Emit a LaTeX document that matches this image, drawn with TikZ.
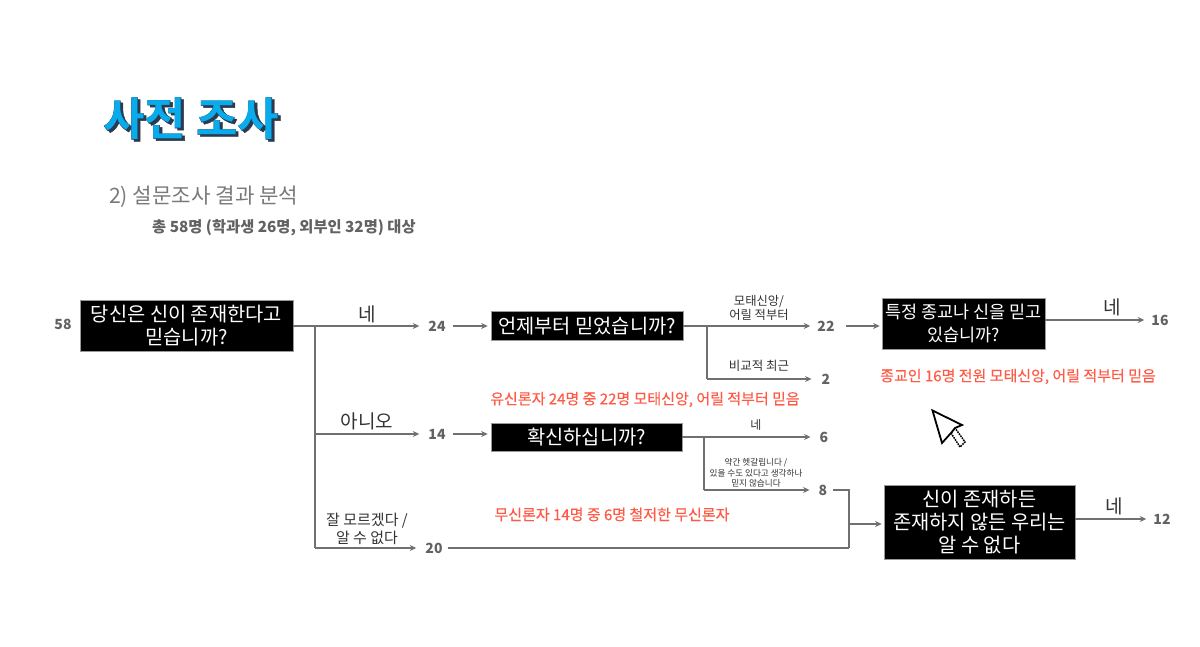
\documentclass[tikz,border=0pt]{standalone}
\usepackage{fontspec}
\setmainfont{Noto Sans CJK KR}
\newfontfamily\titlefont[FakeBold=1.0]{Noto Sans CJK KR Bold}
\newfontfamily\titlethin{Noto Sans CJK KR Bold}
\newfontfamily\semib[FakeBold=0.25]{Noto Sans CJK KR}
\usetikzlibrary{arrows.meta,calc}
\definecolor{ln}{HTML}{707070}
\definecolor{tx}{HTML}{626262}
\definecolor{rd}{HTML}{FF5A45}
\definecolor{cy}{HTML}{08ABEC}
\definecolor{sh}{HTML}{2B3A4E}
\newcommand{\fz}[2]{\fontsize{#1}{#2}\selectfont}
\tikzset{
 x=1pt,y=-1pt,
 qbox/.style={fill=black,draw=black!40!white,line width=.6pt,text=white,align=center,font=\fz{19.8}{23},inner sep=0pt},
 num/.style={text=tx,font=\fz{14}{14}\bfseries,inner sep=0pt},
 lab/.style={text=black!80,align=center,inner sep=0pt},
 red/.style={text=rd,font=\semib\fz{15}{16},inner sep=0pt},
 ar/.style={draw=ln,line width=1.9pt,-{Stealth[length=6.5pt,width=6pt]}},
 li/.style={draw=ln,line width=1.9pt},
}
\begin{document}
\begin{tikzpicture}
\useasboundingbox (0,0) rectangle (1200,647);
\fill[white] (0,0) rectangle (1200,647);
% title
\node[text=sh,font=\titlefont\fz{45}{48},inner sep=0pt] (tshadow) at (193.5,120.5) {사전 조사};
\node[text=sh,font=\titlefont\fz{45}{48},inner sep=0pt] (toutline) at (191,118.5) {사전 조사};
\node[text=cy,font=\titlethin\fz{45}{48},inner sep=0pt] (title) at (191,118.5) {사전 조사};
\node[text=tx!85,font=\fz{21.2}{23},anchor=west,inner sep=0pt] (sub) at (109,197) {2) 설문조사 결과 분석};
\node[text=tx,font=\fz{15.3}{17}\bfseries,anchor=west,inner sep=0pt] (sub2) at (152,227.5) {총 58명 (학과생 26명, 외부인 32명) 대상};
% boxes
\node[qbox,minimum width=213pt,minimum height=51pt] (b1) at (186.5,326) {당신은 신이 존재한다고\\믿습니까?};
\node[qbox,minimum width=192pt,minimum height=29pt] (b2) at (587,326) {언제부터 믿었습니까?};
\node[qbox,minimum width=163pt,minimum height=51pt,font=\fz{17.5}{23}] (b3) at (963.5,323.5) {특정 종교나 신을 믿고\\있습니까?};
\node[qbox,minimum width=191pt,minimum height=28pt] (b4) at (586.5,437) {확신하십니까?};
\node[qbox,minimum width=191pt,minimum height=74pt] (b5) at (979.5,522) {신이 존재하든\\존재하지 않든 우리는\\알 수 없다};
% numbers
\node[num] (n58) at (63,324.5) {58};
\node[num] (n24) at (437,326) {24};
\node[num] (n14) at (437,434) {14};
\node[num] (n20) at (434,548) {20};
\node[num] (n22) at (826,326) {22};
\node[num] (n2) at (826,379) {2};
\node[num] (n6) at (824,437) {6};
\node[num] (n8) at (823,490) {8};
\node[num] (n16) at (1160,320) {16};
\node[num] (n12) at (1162,519) {12};
% labels
\node[lab,font=\fz{19}{20}] (l1) at (367,314) {네};
\node[lab,font=\fz{19}{20}] (l2) at (367,421) {아니오};
\node[lab,font=\fz{15}{18}] (l3) at (367,529) {잘 모르겠다 /\\알 수 없다};
\node[lab,font=\fz{12.3}{14.5}] (l4) at (759,308) {모태신앙/\\어릴 적부터};
\node[lab,font=\fz{12.5}{14}] (l5) at (759,366) {비교적 최근};
\node[lab,font=\fz{12}{14}] (l6) at (756,425) {네};
\node[lab,font=\fz{8.6}{10.5}] (l7) at (756,473) {약간 헷갈립니다 /\\있을 수도 있다고 생각하나\\믿지 않습니다};
\node[lab,font=\fz{19}{20}] (l8) at (1112,307) {네};
\node[lab,font=\fz{19}{20}] (l9) at (1114,506) {네};
% red
\node[red] (r1) at (645,399.5) {유신론자 24명 중 22명 모태신앙, 어릴 적부터 믿음};
\node[red] (r2) at (1018,376.5) {종교인 16명 전원 모태신앙, 어릴 적부터 믿음};
\node[red] (r3) at (612,514.5) {무신론자 14명 중 6명 철저한 무신론자};
% junctions
\coordinate (j1) at (315,326);
\coordinate (j2) at (707,326);
\coordinate (j3) at (704,437);
\coordinate (m1) at (849,490);
\coordinate (m2) at (849,548);
\coordinate (m3) at (849,524);
% connectors
\draw[ar,shorten >=9pt] (b1.east) -- (n24.west);
\draw[li] (j1) -- (j1 |- n20);
\draw[ar,shorten >=9pt] (j1 |- n14) -- (n14.west);
\draw[ar,shorten >=9pt] (j1 |- n20) -- (n20.west);
\draw[ar,shorten <=7pt,shorten >=3pt] (n24.east) -- (b2.west);
\draw[ar,shorten <=7pt,shorten >=3pt] (n14.east) -- (b4.west |- n14);
\draw[ar,shorten >=7pt] (b2.east) -- (n22.west);
\draw[li] (j2) -- (j2 |- n2);
\draw[ar,shorten >=10pt] (j2 |- n2) -- (n2.west);
\draw[ar,shorten <=11pt,shorten >=2pt] (n22.east) -- (b3.west |- n22);
\draw[ar,shorten >=7pt] (b3.east |- n16) -- (n16.west);
\draw[ar,shorten >=9pt] (b4.east) -- (n6.west);
\draw[li] (j3) -- (j3 |- n8);
\draw[ar,shorten >=9pt] (j3 |- n8) -- (n8.west);
\draw[li,shorten <=6pt] (n8.east) -- (m1) -- (m2);
\draw[li,shorten <=5pt] (n20.east) -- (m2);
\draw[ar,shorten >=2pt] (m3) -- (b5.west |- m3);
\draw[ar,shorten >=7pt] (b5.east |- n12) -- (n12.west);
% cursor
\draw[black,fill=white,line width=1.5pt,dash pattern=on 1.6pt off .9pt] (951,433) -- (960,447) -- (965,442) -- (955,428) -- cycle;
\draw[black,fill=white,line width=1.8pt,line join=miter] (932.5,410.5) -- (942,443) -- (951,433) -- (955,428) -- (962,425) -- cycle;
\end{tikzpicture}
\end{document}
